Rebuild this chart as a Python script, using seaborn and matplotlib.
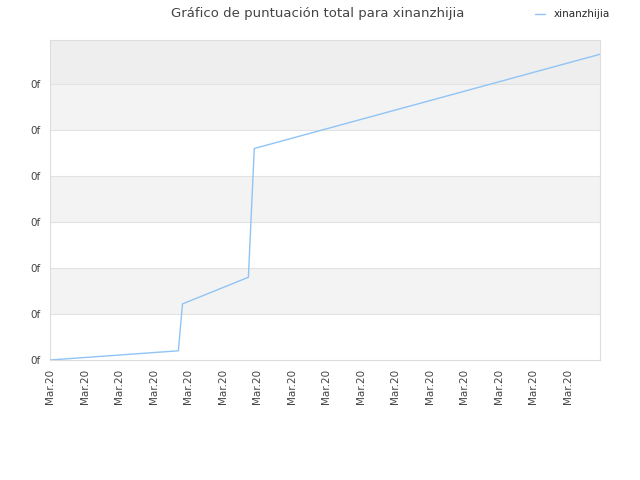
import numpy as np
import pandas as pd
import seaborn as sns
import matplotlib.pyplot as plt

# data (x in tick steps, y in gridline steps)
dias = [0.0, 3.72, 3.84, 5.75, 5.92, 15.94]
puntos = [0.0, 0.2, 1.22, 1.8, 4.6, 6.65]
tick_labels = ['Mar.20'] * 16
ytick_labels = ['0f'] * 7

df = pd.DataFrame({'dia': dias, 'puntos': puntos})

sns.set_style('white')
plt.rcParams['font.family'] = ['DejaVu Sans']
fig = plt.figure(figsize=(6.4, 4.8), dpi=100)
ax = fig.add_axes([50 / 640, 120 / 480, 550 / 640, 320 / 480])

ymax = 6.96
# alternating horizontal bands
bands = [(1, 2, '#f3f3f3'), (3, 4, '#f3f3f3'), (5, 6, '#f3f3f3'), (6, ymax, '#eeeeee')]
for lo, hi, c in bands:
    ax.axhspan(lo, hi, color=c, zorder=0, lw=0)
for y in range(1, 7):
    ax.axhline(y, color='#e2e2e2', lw=0.8, zorder=1)

sns.lineplot(data=df, x='dia', y='puntos', ax=ax, color='#90c4f4', lw=1.0,
             label='xinanzhijia', zorder=3)

ax.set_xlim(0, 15.94)
ax.set_ylim(0, ymax)
ax.set_xticks(range(16))
ax.set_xticklabels(tick_labels, rotation=90, fontsize=7.5, color='#444444')
ax.set_yticks(range(7))
ax.set_yticklabels(ytick_labels, fontsize=7.5, color='#444444')
ax.tick_params(length=3, color='#cccccc')
ax.set_xlabel('')
ax.set_ylabel('')
for s in ax.spines.values():
    s.set_color('#dddddd')

fig.suptitle('Gráfico de puntuación total para xinanzhijia', x=318 / 640, y=0.985,
             fontsize=9.5, color='#444444')
ax.legend(loc='upper right', bbox_to_anchor=(1.035, 1.125), frameon=False,
          fontsize=7.5, handlelength=1.0)

fig.savefig('out.png', dpi=100)
